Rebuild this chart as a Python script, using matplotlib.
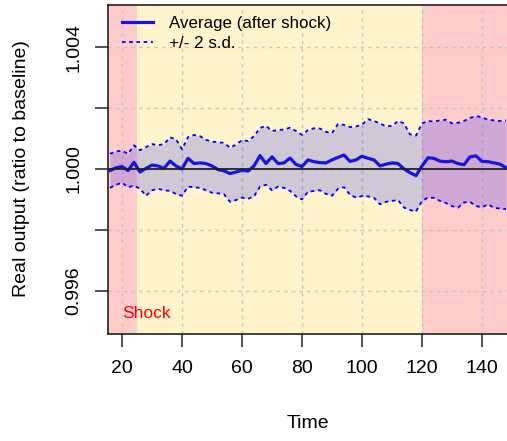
import numpy as np
import matplotlib
matplotlib.use("Agg")
import matplotlib.pyplot as plt

plt.rcParams["font.family"] = ["Liberation Sans", "DejaVu Sans"]

# data (time step 2)
time = np.arange(16, 149, 2)
avg = [0.99995, 1.00004, 1.00008, 0.99995, 1.00022, 0.99990, 1.00002, 1.00013,
       1.00010, 1.00002, 1.00026, 1.00010, 1.00000, 1.00035, 1.00018, 1.00020,
       1.00018, 1.00010, 0.99998, 0.99994, 0.99985, 0.99990, 0.99996, 0.99993,
       1.00010, 1.00044, 1.00018, 1.00040, 1.00018, 1.00020, 1.00036, 1.00015,
       1.00008, 1.00030, 1.00024, 1.00021, 1.00020, 1.00030, 1.00038, 1.00046,
       1.00025, 1.00030, 1.00042, 1.00035, 1.00030, 1.00010, 1.00016, 1.00020,
       1.00018, 1.00000, 0.99988, 0.99978, 1.00010, 1.00037, 1.00035, 1.00026,
       1.00024, 1.00026, 1.00018, 1.00014, 1.00040, 1.00043, 1.00025, 1.00024,
       1.00020, 1.00016, 1.00004]
upper = [1.00050, 1.00058, 1.00060, 1.00050, 1.00078, 1.00062, 1.00072, 1.00082,
         1.00078, 1.00082, 1.00104, 1.00098, 1.00065, 1.00105, 1.00112, 1.00108,
         1.00096, 1.00090, 1.00088, 1.00086, 1.00070, 1.00080, 1.00095, 1.00092,
         1.00108, 1.00135, 1.00142, 1.00125, 1.00128, 1.00130, 1.00136, 1.00125,
         1.00112, 1.00128, 1.00134, 1.00133, 1.00122, 1.00118, 1.00148, 1.00145,
         1.00138, 1.00140, 1.00146, 1.00164, 1.00158, 1.00150, 1.00140, 1.00142,
         1.00158, 1.00150, 1.00114, 1.00110, 1.00150, 1.00158, 1.00156, 1.00160,
         1.00162, 1.00150, 1.00152, 1.00158, 1.00168, 1.00174, 1.00170, 1.00162,
         1.00160, 1.00158, 1.00160]
lower = [0.99938, 0.99948, 0.99955, 0.99940, 0.99945, 0.99935, 0.99912, 0.99930,
         0.99935, 0.99930, 0.99928, 0.99918, 0.99912, 0.99942, 0.99940, 0.99938,
         0.99930, 0.99922, 0.99920, 0.99917, 0.99892, 0.99898, 0.99906, 0.99902,
         0.99910, 0.99942, 0.99948, 0.99930, 0.99942, 0.99938, 0.99928, 0.99910,
         0.99900, 0.99925, 0.99928, 0.99930, 0.99918, 0.99912, 0.99935, 0.99940,
         0.99915, 0.99906, 0.99911, 0.99910, 0.99905, 0.99884, 0.99892, 0.99895,
         0.99898, 0.99873, 0.99865, 0.99860, 0.99895, 0.99906, 0.99905, 0.99895,
         0.99888, 0.99878, 0.99873, 0.99890, 0.99892, 0.99878, 0.99874, 0.99884,
         0.99872, 0.99870, 0.99868]

shock_start, shock_end = 25, 120
xticks = [20, 40, 60, 80, 100, 120, 140]
yticks = [0.996, 0.998, 1.000, 1.002, 1.004]
ylabels = ["0.996", "", "1.000", "", "1.004"]

W, H = 507, 441
fig = plt.figure(figsize=(W / 100, H / 100), dpi=100)
ax = fig.add_axes([108 / W, (H - 334) / H, 404 / W, 329 / H])

ax.set_xlim(15.33, 150)
ax.set_ylim(0.994572, 1.005395)

# shaded periods
ax.axvspan(0, shock_start, color="#ffcccc", lw=0, zorder=0)
ax.axvspan(shock_start, shock_end, color="#fff4cc", lw=0, zorder=0)
ax.axvspan(shock_end, 200, color="#ffcccc", lw=0, zorder=0)

# grid
for x in xticks:
    ax.axvline(x, color="#c4c4c4", lw=1, ls=(0, (2.5, 3)), zorder=1)
for y in yticks:
    ax.axhline(y, color="#c4c4c4", lw=1, ls=(0, (2.5, 3)), zorder=1)

ax.fill_between(time, lower, upper, color="blue", alpha=0.18, lw=0, zorder=2)
ax.plot(time, upper, color="blue", lw=1.3, ls=(0, (2, 2)), zorder=3)
ax.plot(time, lower, color="blue", lw=1.3, ls=(0, (2, 2)), zorder=3,
        label="+/- 2 s.d.")
ax.plot(time, avg, color="#1515e0", lw=2.3, zorder=4,
        label="Average (after shock)")
ax.axhline(1.0, color="#222222", lw=1.3, zorder=5)

ax.text(20, 0.99523, "Shock", color="red", fontsize=12.5, ha="left", va="center")

h, l = ax.get_legend_handles_labels()
ax.legend(h[::-1], l[::-1], loc="upper left", bbox_to_anchor=(0.035, 0.967),
          frameon=False, fontsize=12.2, handlelength=1.85, handletextpad=0.9,
          labelspacing=0.3, borderpad=0, borderaxespad=0)

ax.set_xticks(xticks)
ax.set_yticks(yticks)
ax.set_yticklabels(ylabels)
ax.tick_params(axis="both", length=9.5, width=1.1, labelsize=14, color="#222222")
ax.tick_params(axis="x", pad=9)
ax.tick_params(axis="y", pad=9, labelrotation=90)
for lab in ax.get_yticklabels():
    lab.set_va("center")
for s in ax.spines.values():
    s.set_color("#222222")
    s.set_linewidth(1.2)

fig.text(308 / W, 1 - 423 / H, "Time", fontsize=14, ha="center", va="center")
fig.text(22 / W, 1 - 169 / H, "Real output (ratio to baseline)", fontsize=14,
         ha="center", va="center", rotation=90)

fig.savefig("out.png", dpi=100)
